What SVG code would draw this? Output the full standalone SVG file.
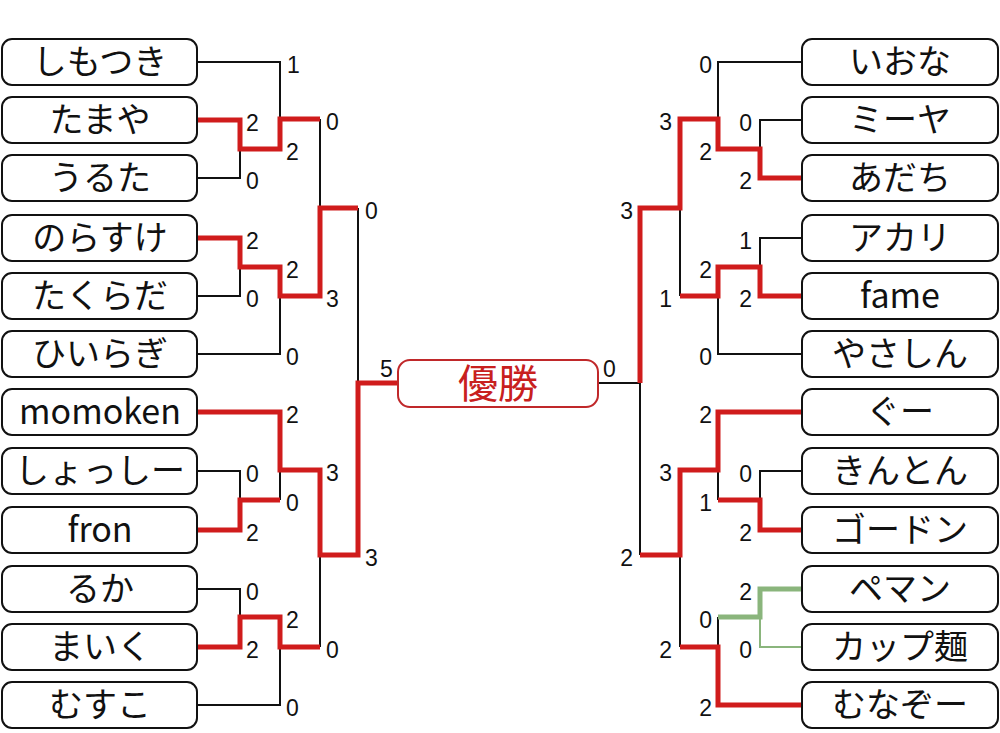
<svg xmlns="http://www.w3.org/2000/svg" width="1000" height="733" viewBox="0 0 1000 733">
<style>
.box{fill:#fff;stroke:#111;stroke-width:2}
.nm{font-family:"Noto Sans CJK JP","Noto Sans",sans-serif;font-size:34px;fill:#111;text-anchor:middle}
.lb{font-family:"Liberation Sans",Arial,sans-serif;font-size:23px;fill:#111}
.r{text-anchor:end}
.bk{fill:none;stroke:#111;stroke-width:2}
.rd{fill:none;stroke:#d01c1c;stroke-width:5;stroke-linejoin:miter}
.gt{fill:none;stroke:#8ab57c;stroke-width:5}
.gn{fill:none;stroke:#8ab57c;stroke-width:2}
</style>
<rect width="1000" height="733" fill="#fff"/>
<g id="connectors">
<path class="bk" d="M197,62H280V119 M197,178H240V149 M320,119V208 M197,296H240V267 M197,354H280V296 M358,208V383 M197,471H240V500 M280,470V500 M197,589H240V617 M197,705H280V647 M320,555V647"/>
<path class="bk" d="M802,62H718V119 M802,120H760V149 M680,208V296 M802,238H760V267 M802,354H718V296 M640,383V555 M598,383H640 M802,471H760V500 M718,470V500 M718,617V647 M680,555V647"/>
<path class="gn" d="M802,647H760V617"/>
<path class="gt" d="M802,589H760V617H718"/>
<path class="rd" d="M197,120H240V149H280V119H320 M197,238H240V267H280V296H320V208H358 M197,412H280V470H320V555H358V383H398 M197,530H240V500H280 M197,647H240V617H280V647H320"/>
<path class="rd" d="M802,178H760V149H718V119H680V208H640V383 M802,296H760V267H718V296H680 M802,412H718V470H680V555H640 M802,530H760V500H718 M802,705H718V647H680"/>
</g>
<g id="scores" transform="translate(0,1)">
<text class="lb" x="287" y="72">1</text>
<text class="lb" x="246" y="130">2</text>
<text class="lb" x="246" y="188">0</text>
<text class="lb" x="286" y="159">2</text>
<text class="lb" x="326" y="129">0</text>
<text class="lb" x="246" y="248">2</text>
<text class="lb" x="246" y="306">0</text>
<text class="lb" x="286" y="277">2</text>
<text class="lb" x="286" y="364">0</text>
<text class="lb" x="326" y="306">3</text>
<text class="lb" x="365" y="218">0</text>
<text class="lb" x="286" y="422">2</text>
<text class="lb" x="246" y="481">0</text>
<text class="lb" x="246" y="540">2</text>
<text class="lb" x="286" y="510">0</text>
<text class="lb" x="326" y="480">3</text>
<text class="lb" x="365" y="565">3</text>
<text class="lb" x="246" y="599">0</text>
<text class="lb" x="246" y="657">2</text>
<text class="lb" x="286" y="627">2</text>
<text class="lb" x="286" y="715">0</text>
<text class="lb" x="326" y="657">0</text>
<text class="lb" x="380" y="376">5</text>
<text class="lb r" x="712" y="72">0</text>
<text class="lb r" x="752" y="130">0</text>
<text class="lb r" x="752" y="188">2</text>
<text class="lb r" x="712" y="159">2</text>
<text class="lb r" x="672" y="129">3</text>
<text class="lb r" x="633" y="218">3</text>
<text class="lb r" x="752" y="248">1</text>
<text class="lb r" x="752" y="306">2</text>
<text class="lb r" x="712" y="277">2</text>
<text class="lb r" x="712" y="364">0</text>
<text class="lb r" x="672" y="306">1</text>
<text class="lb" x="603" y="376">0</text>
<text class="lb r" x="712" y="422">2</text>
<text class="lb r" x="752" y="481">0</text>
<text class="lb r" x="752" y="540">2</text>
<text class="lb r" x="712" y="510">1</text>
<text class="lb r" x="672" y="480">3</text>
<text class="lb r" x="633" y="565">2</text>
<text class="lb r" x="752" y="599">2</text>
<text class="lb r" x="752" y="657">0</text>
<text class="lb r" x="712" y="627">0</text>
<text class="lb r" x="712" y="715">2</text>
<text class="lb r" x="672" y="657">2</text>
</g>
<g id="champion"><rect x="398" y="360" width="200" height="47" rx="12" fill="#fff" stroke="#c0282a" stroke-width="2"/><text x="498" y="398" style="font-family:'Noto Sans CJK JP',sans-serif;font-size:40px;fill:#c8201e;text-anchor:middle">優勝</text></g>
<g id="n-shimotsuki"><rect class="box" x="2" y="39" width="195" height="46" rx="10"/><text class="nm" x="100" y="74">しもつき</text></g>
<g id="n-tamaya"><rect class="box" x="2" y="97" width="195" height="46" rx="10"/><text class="nm" x="100" y="132">たまや</text></g>
<g id="n-uruta"><rect class="box" x="2" y="155" width="195" height="46" rx="10"/><text class="nm" x="100" y="190">うるた</text></g>
<g id="n-norasuke"><rect class="box" x="2" y="215" width="195" height="46" rx="10"/><text class="nm" x="100" y="250">のらすけ</text></g>
<g id="n-takurada"><rect class="box" x="2" y="273" width="195" height="46" rx="10"/><text class="nm" x="100" y="308">たくらだ</text></g>
<g id="n-hiiragi"><rect class="box" x="2" y="331" width="195" height="46" rx="10"/><text class="nm" x="100" y="366">ひいらぎ</text></g>
<g id="n-momoken"><rect class="box" x="2" y="389" width="195" height="46" rx="10"/><text class="nm" x="100" y="424">momoken</text></g>
<g id="n-shosshi"><rect class="box" x="2" y="448" width="195" height="46" rx="10"/><text class="nm" x="100" y="483">しょっしー</text></g>
<g id="n-fron"><rect class="box" x="2" y="507" width="195" height="46" rx="10"/><text class="nm" x="100" y="542">fron</text></g>
<g id="n-ruka"><rect class="box" x="2" y="566" width="195" height="46" rx="10"/><text class="nm" x="100" y="601">るか</text></g>
<g id="n-maiku"><rect class="box" x="2" y="624" width="195" height="46" rx="10"/><text class="nm" x="100" y="659">まいく</text></g>
<g id="n-musuko"><rect class="box" x="2" y="682" width="195" height="46" rx="10"/><text class="nm" x="100" y="717">むすこ</text></g>
<g id="n-iona"><rect class="box" x="802" y="39" width="196" height="46" rx="10"/><text class="nm" x="900" y="74">いおな</text></g>
<g id="n-miya"><rect class="box" x="802" y="97" width="196" height="46" rx="10"/><text class="nm" x="900" y="132">ミーヤ</text></g>
<g id="n-adachi"><rect class="box" x="802" y="155" width="196" height="46" rx="10"/><text class="nm" x="900" y="190">あだち</text></g>
<g id="n-akari"><rect class="box" x="802" y="215" width="196" height="46" rx="10"/><text class="nm" x="900" y="250">アカリ</text></g>
<g id="n-fame"><rect class="box" x="802" y="273" width="196" height="46" rx="10"/><text class="nm" x="900" y="308">fame</text></g>
<g id="n-yasashin"><rect class="box" x="802" y="331" width="196" height="46" rx="10"/><text class="nm" x="900" y="366">やさしん</text></g>
<g id="n-gu"><rect class="box" x="802" y="389" width="196" height="46" rx="10"/><text class="nm" x="900" y="424">ぐー</text></g>
<g id="n-kinton"><rect class="box" x="802" y="448" width="196" height="46" rx="10"/><text class="nm" x="900" y="483">きんとん</text></g>
<g id="n-gordon"><rect class="box" x="802" y="507" width="196" height="46" rx="10"/><text class="nm" x="900" y="542">ゴードン</text></g>
<g id="n-peman"><rect class="box" x="802" y="566" width="196" height="46" rx="10"/><text class="nm" x="900" y="601">ペマン</text></g>
<g id="n-cupmen"><rect class="box" x="802" y="624" width="196" height="46" rx="10"/><text class="nm" x="900" y="659">カップ麺</text></g>
<g id="n-munazo"><rect class="box" x="802" y="682" width="196" height="46" rx="10"/><text class="nm" x="900" y="717">むなぞー</text></g>
</svg>
